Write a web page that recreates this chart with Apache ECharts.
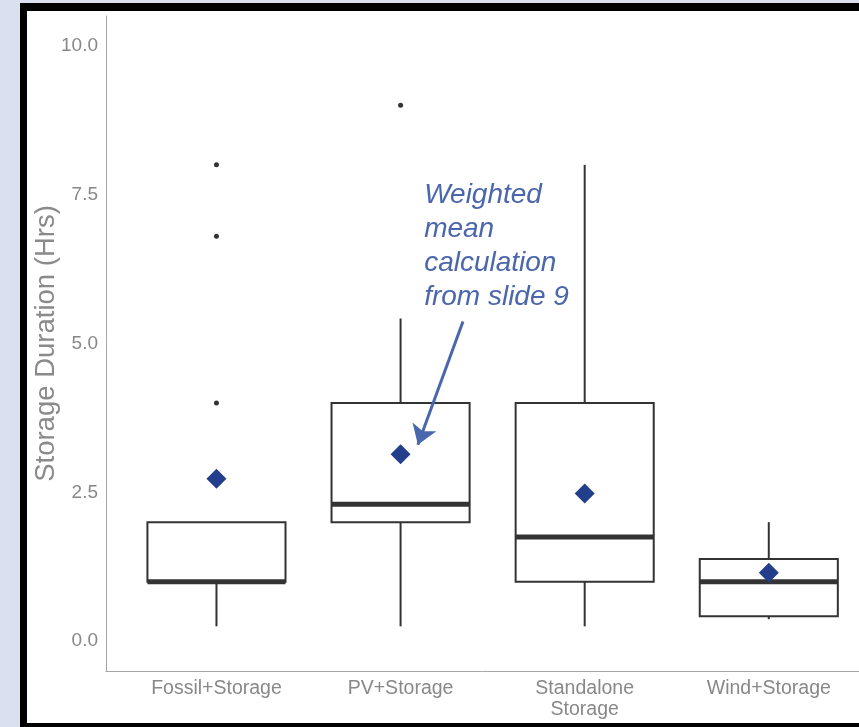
<!DOCTYPE html>
<html>
<head>
<meta charset="utf-8">
<script src="https://cdn.jsdelivr.net/npm/echarts@6/dist/echarts.min.js"></script>
<style>
  html, body { margin: 0; padding: 0; width: 859px; height: 727px; overflow: hidden; background: #dae0f0; }
  #frame { position: absolute; left: 20px; top: 3px; width: 900px; height: 728px; box-sizing: border-box;
           border-top: 8px solid #000; border-left: 7px solid #000; border-bottom: 8px solid #000; background: #fff; }
  #chart { position: absolute; left: 0; top: 0; width: 859px; height: 727px; }
</style>
</head>
<body>
<div id="frame"></div>
<div id="chart"></div>
<script>
// ---- data ----
const categories = ['Fossil+Storage', 'PV+Storage', 'Standalone\nStorage', 'Wind+Storage'];
const lowerWhisker = [0.25, 0.25, 0.25, 0.37];
const q1Values     = [1.0, 2.0, 1.0, 0.42];
const medianValues = [1.0, 2.3, 1.75, 1.0];
const q3Values     = [2.0, 4.0, 4.0, 1.38];
const upperWhisker = [2.0, 5.42, 8.0, 2.0];
const meanValues   = [2.73, 3.14, 2.48, 1.15];
const outlierCategory = [0, 0, 0, 1];
const outlierValues   = [8.0, 6.8, 4.0, 9.0];
const yTicks = [0, 2.5, 5, 7.5, 10];
const yTitle = 'Storage Duration (Hrs)';
const annotationText = 'Weighted\nmean\ncalculation\nfrom slide 9';

// ---- build ----
const boxData = categories.map((c, i) => [i + 1, lowerWhisker[i], q1Values[i], medianValues[i], q3Values[i], upperWhisker[i]]);
const meanData = categories.map((c, i) => [i + 1, meanValues[i]]);
const outlierData = outlierValues.map((v, i) => [outlierCategory[i] + 1, v]);

const FONT = '"Liberation Sans", Arial, Helvetica, sans-serif';
const INK = '#333333';
const BOX_HALF = 0.375;

function renderBox(params, api) {
  const x = api.value(0);
  const lw = api.value(1), q1 = api.value(2), med = api.value(3), q3 = api.value(4), uw = api.value(5);
  const tl = api.coord([x - BOX_HALF, q3]);
  const br = api.coord([x + BOX_HALF, q1]);
  const cTop = api.coord([x, uw]);
  const cQ3 = api.coord([x, q3]);
  const cQ1 = api.coord([x, q1]);
  const cLow = api.coord([x, lw]);
  const mL = api.coord([x - BOX_HALF, med]);
  const mR = api.coord([x + BOX_HALF, med]);
  const lineStyle = { stroke: INK, lineWidth: 2 };
  return {
    type: 'group',
    children: [
      { type: 'line', shape: { x1: cTop[0], y1: cTop[1], x2: cQ3[0], y2: cQ3[1] }, style: lineStyle },
      { type: 'line', shape: { x1: cQ1[0], y1: cQ1[1], x2: cLow[0], y2: cLow[1] }, style: lineStyle },
      { type: 'rect', shape: { x: tl[0], y: tl[1], width: br[0] - tl[0], height: br[1] - tl[1] },
        style: { fill: '#ffffff', stroke: INK, lineWidth: 2 } },
      { type: 'line', shape: { x1: mL[0], y1: mL[1], x2: mR[0], y2: mR[1] },
        style: { stroke: INK, lineWidth: 5 } }
    ]
  };
}

const chart = echarts.init(document.getElementById('chart'), null, { renderer: 'canvas' });
const option = {
  backgroundColor: 'transparent',
  animation: false,
  textStyle: { fontFamily: FONT },
  grid: { left: 106, right: 0, top: 16, bottom: 56, containLabel: false },
  xAxis: {
    type: 'value', min: 0.4, max: 4.49,
    axisLine: { show: true, onZero: false, lineStyle: { color: '#a6a6a6', width: 1 } },
    axisTick: { show: false },
    splitLine: { show: false },
    axisLabel: {
      customValues: [1, 2, 3, 4],
      formatter: v => categories[Math.round(v) - 1] || '',
      color: '#888888', fontSize: 19.5, fontFamily: FONT, lineHeight: 21, margin: 7
    }
  },
  yAxis: {
    type: 'value', min: -0.5, max: 10.5,
    name: yTitle, nameLocation: 'middle', nameGap: 46, nameMoveOverlap: false,
    nameTextStyle: { color: '#8a8a8a', fontSize: 27.5, fontFamily: FONT },
    axisLine: { show: true, onZero: false, lineStyle: { color: '#a6a6a6', width: 1 } },
    axisTick: { show: false },
    splitLine: { show: false },
    axisLabel: {
      customValues: yTicks,
      formatter: v => Number(v).toFixed(1),
      color: '#888888', fontSize: 19, fontFamily: FONT, margin: 8
    }
  },
  series: [
    {
      type: 'custom', name: 'box', renderItem: renderBox, data: boxData,
      encode: { x: 0, y: [1, 2, 3, 4, 5] }, z: 2, silent: true
    },
    {
      type: 'scatter', name: 'outliers', data: outlierData, symbol: 'circle', symbolSize: 5,
      itemStyle: { color: INK, opacity: 1 }, z: 3, silent: true
    },
    {
      type: 'scatter', name: 'mean', data: meanData, symbol: 'diamond', symbolSize: 20,
      itemStyle: { color: '#233f8c', opacity: 1 }, z: 4, silent: true,
      markLine: {
        silent: true, symbol: ['none', 'arrow'], symbolSize: 19,
        lineStyle: { color: '#4a66ac', width: 3, type: 'solid', opacity: 1 },
        label: { show: false },
        emphasis: { disabled: true },
        data: [[{ coord: [2.339, 5.37] }, { coord: [2.094, 3.30] }]]
      }
    }
  ]
};
chart.setOption(option);
const p = chart.convertToPixel({ gridIndex: 0 }, [2.128, 7.78]);
chart.setOption({
  graphic: [{
    type: 'text', left: p[0], top: p[1], z: 10, silent: true,
    style: { text: annotationText, fill: '#4a66ac', font: 'italic 28px ' + FONT, lineHeight: 34 }
  }]
});
</script>
</body>
</html>
